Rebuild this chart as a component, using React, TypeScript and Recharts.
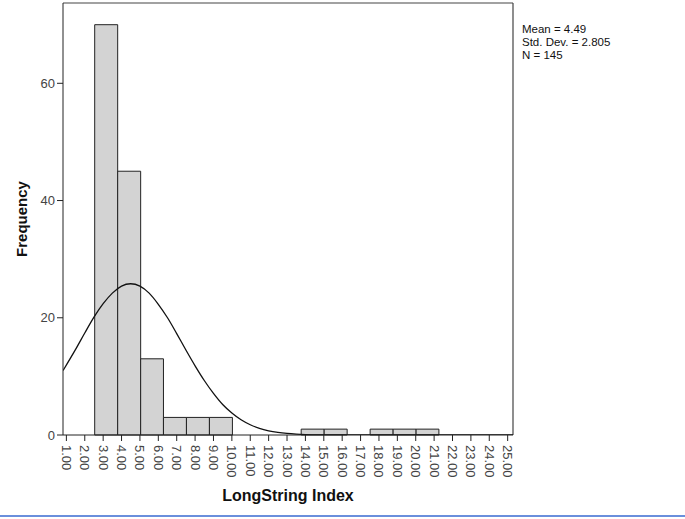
import {
  ComposedChart,
  Line,
  XAxis,
  YAxis,
  ReferenceArea,
  ReferenceLine,
  Label,
} from 'recharts';

// histogram bins (lower edge, upper edge, count)
const binLower = [2.54, 3.79, 5.04, 6.28, 7.53, 8.78, 13.77, 15.02, 17.52, 18.77, 20.02];
const binUpper = [3.79, 5.04, 6.28, 7.53, 8.78, 10.03, 15.02, 16.27, 18.77, 20.02, 21.26];
const binCount = [70, 45, 13, 3, 3, 3, 1, 1, 1, 1, 1];

// fitted normal curve, estimated points
const curveX = [0.82, 1.5, 2, 2.5, 3, 3.5, 4, 4.49, 5, 5.5, 6, 6.5, 7, 7.5, 8, 8.5, 9, 9.5, 10, 10.5, 11, 11.5, 12, 12.5, 13, 13.5, 14, 15, 16, 18, 20, 22, 25.29];
const curveY = [11.0, 14.6, 17.4, 20.1, 22.4, 24.2, 25.4, 25.8, 25.4, 24.2, 22.3, 20.0, 17.3, 14.5, 11.8, 9.3, 7.1, 5.2, 3.75, 2.6, 1.75, 1.14, 0.72, 0.44, 0.26, 0.15, 0.08, 0.02, 0, 0, 0, 0, 0];

const xTicks = [1, 2, 3, 4, 5, 6, 7, 8, 9, 10, 11, 12, 13, 14, 15, 16, 17, 18, 19, 20, 21, 22, 23, 24, 25];
const yTicks = [0, 20, 40, 60];

const stats = ['Mean = 4.49', 'Std. Dev. = 2.805', 'N = 145'];

const curveData = curveX.map((x, i) => ({ x, y: curveY[i] }));

const X_MIN = 0.816;
const X_MAX = 25.29;
const Y_MAX = 73.7;

const FONT = '"Liberation Sans", Arial, sans-serif';

const RotatedTick = ({ x, y, payload }: any) => (
  <g transform={`translate(${x},${y + 2})`}>
    <text x={0} y={0} dy={4.5} transform="rotate(90)" textAnchor="start" fill="#444" fontSize={13} fontFamily={FONT}>
      {payload.value.toFixed(2)}
    </text>
  </g>
);

export default function App() {
  return (
    <div style={{ position: 'absolute', left: 0, top: 0, width: 685, height: 519, background: '#fff' }}>
      <ComposedChart
        width={685}
        height={519}
        data={curveData}
        margin={{ top: 3, right: 172, left: 0, bottom: 0 }}
      >
        <XAxis
          dataKey="x"
          type="number"
          domain={[X_MIN, X_MAX]}
          allowDataOverflow
          ticks={xTicks}
          interval={0}
          tickSize={6}
          tick={<RotatedTick />}
          stroke="#222"
          height={84}
        >
          <Label
            value="LongString Index"
            position="insideBottom"
            offset={18}
            style={{ fontWeight: 'bold', fontSize: 16, fill: '#111', fontFamily: FONT }}
          />
        </XAxis>
        <YAxis
          type="number"
          domain={[0, Y_MAX]}
          allowDataOverflow
          ticks={yTicks}
          tickSize={6}
          tickMargin={2}
          tick={{ fill: '#444', fontSize: 13, fontFamily: FONT }}
          stroke="#222"
          width={63}
        >
          <Label
            value="Frequency"
            angle={-90}
            position="insideLeft"
            offset={22}
            style={{ fontWeight: 'bold', fontSize: 15, fill: '#111', fontFamily: FONT, textAnchor: 'middle' }}
          />
        </YAxis>
        {binCount.map((c, i) => (
          <ReferenceArea
            key={i}
            x1={binLower[i]}
            x2={binUpper[i]}
            y1={0}
            y2={c}
            fill="#d3d3d3"
            fillOpacity={1}
            stroke="#222"
            strokeWidth={1}
            ifOverflow="visible"
          />
        ))}
        <ReferenceLine y={Y_MAX} stroke="#444" strokeWidth={1.2} ifOverflow="visible" />
        <ReferenceLine x={X_MAX} stroke="#444" strokeWidth={1.2} ifOverflow="visible" />
        <Line
          dataKey="y"
          type="monotone"
          dot={false}
          stroke="#111"
          strokeWidth={1.3}
          isAnimationActive={false}
        />
      </ComposedChart>
      <div
        style={{
          position: 'absolute',
          left: 522,
          top: 23,
          fontFamily: FONT,
          fontSize: 11.5,
          lineHeight: '13px',
          color: '#111',
        }}
      >
        {stats.map((s) => (
          <div key={s}>{s}</div>
        ))}
      </div>
      <div style={{ position: 'absolute', left: 0, top: 515, width: 685, height: 2, background: '#6a8fdc' }} />
    </div>
  );
}
